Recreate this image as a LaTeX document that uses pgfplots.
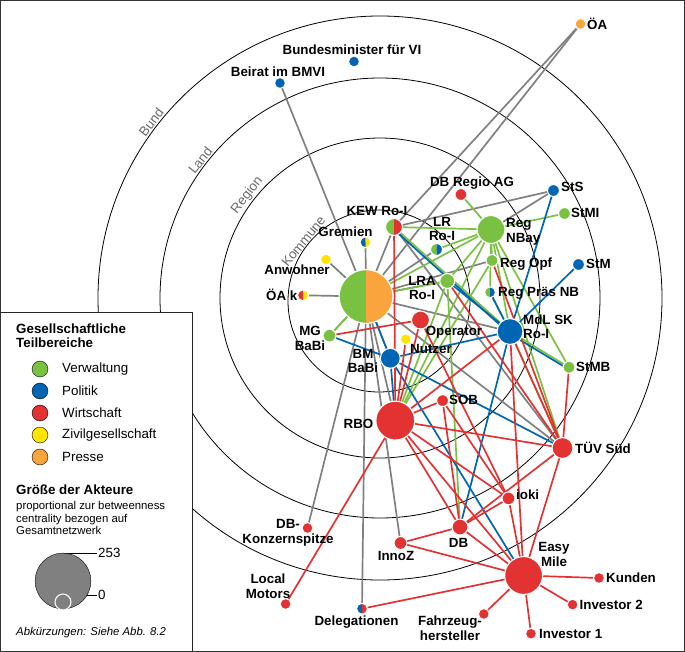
\documentclass[border=0pt]{standalone}
\usepackage{pgfplots}
\pgfplotsset{compat=1.18}
\usepackage{fontspec}
\setmainfont{Liberation Sans}
\definecolor{cG}{RGB}{122,193,66}
\definecolor{cB}{RGB}{0,102,179}
\definecolor{cR}{RGB}{227,50,50}
\definecolor{cY}{RGB}{255,228,0}
\definecolor{cO}{RGB}{250,164,61}
\definecolor{cGr}{RGB}{128,128,128}
\definecolor{ringtxt}{RGB}{105,105,105}
\pgfdeclareplotmark{halfL}{\pgfpathmoveto{\pgfqpoint{0pt}{\pgfplotmarksize}}\pgfpatharc{90}{270}{\pgfplotmarksize}\pgfpathclose\pgfusepathqfill}
\pgfdeclareplotmark{halfR}{\pgfpathmoveto{\pgfqpoint{0pt}{-\pgfplotmarksize}}\pgfpatharc{-90}{90}{\pgfplotmarksize}\pgfpathclose\pgfusepathqfill}
\pgfplotsset{
  GR/.style={color=cGr, line width=1.7pt, mark=none, forget plot},
  GN/.style={color=cG, line width=1.7pt, mark=none, forget plot},
  BL/.style={color=cB, line width=1.7pt, mark=none, forget plot},
  RD/.style={color=cR, line width=1.7pt, mark=none, forget plot},
}
\newcommand{\lb}{\fontsize{13.4}{14.5}\selectfont\bfseries}
\tikzset{lbl/.style={font=\lb, inner sep=0pt, align=center}}
% node coordinates (pixels, y downwards)
\def\nOA{(580.5,24)}
\def\nBMin{(354,61.5)}
\def\nBeirat{(280,83)}
\def\nDBRegio{(461,194.5)}
\def\nStS{(553.5,190.5)}
\def\nStMI{(564.5,213.5)}
\def\nKEW{(394,227)}
\def\nLR{(436.5,249.5)}
\def\nRegNBay{(491,229.5)}
\def\nGremien{(365.5,242.3)}
\def\nAnwohner{(326,259.5)}
\def\nRegOpf{(492,260.5)}
\def\nStM{(578.5,264.5)}
\def\nKurVW{(366,296.5)}
\def\nOAk{(303,295.3)}
\def\nLRA{(447.3,281)}
\def\nRegPraes{(490,292.3)}
\def\nOperator{(420.5,320)}
\def\nMdL{(510,331.5)}
\def\nMG{(329.5,335.6)}
\def\nNutzer{(405.8,339.2)}
\def\nBM{(390.3,358.3)}
\def\nStMB{(569,367.3)}
\def\nSOB{(442.6,400.6)}
\def\nRBO{(395.3,420.6)}
\def\nTUV{(562.5,448)}
\def\nioki{(508.5,498.4)}
\def\nDB{(460,527)}
\def\nDBK{(307.5,528)}
\def\nInnoZ{(400.5,543)}
\def\nEM{(523.6,575.5)}
\def\nKunden{(599,578)}
\def\nLocalM{(285.6,604)}
\def\nDeleg{(362,608.7)}
\def\nInvB{(572.6,604.6)}
\def\nFahrz{(483.8,614)}
\def\nInvA{(531,633.7)}
\newcommand{\ed}[3]{\edef\tmp{\noexpand\addplot[#1] coordinates {#2 #3};}\tmp}
\newcommand{\nd}[3]{\edef\tmp{\noexpand\addplot[only marks, mark=*, mark size=#2, forget plot, mark options={fill=#3, draw=white, line width=1.1pt}] coordinates {#1};}\tmp}
\newcommand{\nh}[4]{\edef\tmp{\noexpand\addplot[only marks, mark=halfL, mark size=#2, color=#3, forget plot] coordinates {#1};
\noexpand\addplot[only marks, mark=halfR, mark size=#2, color=#4, forget plot] coordinates {#1};
\noexpand\addplot[only marks, mark=o, mark size=#2, forget plot, mark options={draw=white, line width=1.1pt}] coordinates {#1};}\tmp}
\begin{document}
\begin{tikzpicture}
\begin{axis}[scale only axis, width=685bp, height=652bp, xmin=0, xmax=685, ymin=0, ymax=652,
  y dir=reverse, hide axis, clip=false]
% rings
\draw[black, line width=0.8pt] (axis cs:380,298) circle [radius=282];
\draw[black, line width=0.8pt] (axis cs:380,298) circle [radius=220];
\draw[black, line width=0.8pt] (axis cs:380,298) circle [radius=160];
\draw[black, line width=0.8pt] (axis cs:379,301) circle [radius=91];
\node[rotate=52, anchor=south, inner sep=1pt, text=ringtxt, font=\fontsize{13.4}{14}\selectfont] at (axis cs:156,126) {Bund};
\node[rotate=52, anchor=south, inner sep=1pt, text=ringtxt, font=\fontsize{13.4}{14}\selectfont] at (axis cs:205,164) {Land};
\node[rotate=52, anchor=south, inner sep=1pt, text=ringtxt, font=\fontsize{13.4}{14}\selectfont] at (axis cs:253,200) {Region};
\node[rotate=51, anchor=south, inner sep=1pt, text=ringtxt, font=\fontsize{13.4}{14}\selectfont] at (axis cs:308,245) {Kommune};
% gray edges
\ed{GR}{\nBeirat}{\nKurVW}
\ed{GR}{\nOA}{\nKurVW}
\ed{GR}{\nOA}{\nKEW}
\ed{GR}{\nKEW}{\nStS}
\ed{GR}{\nRegNBay}{\nStS}
\ed{GR}{\nKurVW}{\nRegOpf}
\ed{GR}{\nKEW}{\nTUV}
\ed{GR}{\nKurVW}{\nTUV}
\ed{GR}{\nKurVW}{\nDBK}
\ed{GR}{\nKurVW}{\nDeleg}
\ed{GR}{\nKurVW}{\nInnoZ}
\ed{GR}{\nKurVW}{\nRBO}
\ed{GR}{\nKurVW}{\nGremien}
\ed{GR}{\nKurVW}{\nAnwohner}
\ed{GR}{\nKurVW}{\nOAk}
\ed{GR}{\nKurVW}{\nMG}
\ed{GR}{\nKurVW}{\nKEW}
\ed{GR}{\nKurVW}{\nBM}
\ed{GR}{\nKurVW}{\nLR}
\ed{GR}{\nKurVW}{\nLRA}
\ed{GR}{\nKurVW}{\nMdL}
% green edges
\ed{GN}{\nKEW}{\nRegNBay}
\ed{GN}{\nKurVW}{\nRegNBay}
\ed{GN}{\nLR}{\nRegNBay}
\ed{GN}{\nDBRegio}{\nRegNBay}
\ed{GN}{\nRegNBay}{\nStMI}
\ed{GN}{\nRegNBay}{\nRegOpf}
\ed{GN}{\nRegNBay}{\nRegPraes}
\ed{GN}{\nRegNBay}{\nMdL}
\ed{GN}{\nRegNBay}{\nStMB}
\ed{GN}{\nRegNBay}{\nTUV}
\ed{GN}{\nRegNBay}{\nLRA}
\ed{GN}{\nRegNBay}{\nRBO}
\ed{GN}{\nRegOpf}{\nRBO}
\ed{GN}{\nKurVW}{\nLRA}
\ed{GN}{\nMG}{\nKurVW}
\ed{GN}{\nLRA}{\nRBO}
\ed{GN}{\nLRA}{\nDB}
\ed{GN}{\nKEW}{\nMdL}
\ed{GN}{\nRegPraes}{\nMdL}
\ed{GN}{\nMdL}{\nStMB}
\ed{GN}{\nMdL}{\nTUV}
% blue edges
\ed{BL}{\nStS}{\nMdL}
\ed{BL}{\nStM}{\nMdL}
\ed{BL}{(394,229.5)}{(510,334)}
\ed{BL}{\nLRA}{\nMdL}
\ed{BL}{\nRegPraes}{\nMdL}
\ed{BL}{(510,334)}{(569,369.5)}
\ed{BL}{\nBM}{\nMdL}
\ed{BL}{\nMdL}{\nDB}
\ed{BL}{\nBM}{\nTUV}
\ed{BL}{\nBM}{\nEM}
\ed{BL}{\nKurVW}{\nBM}
\ed{BL}{\nMG}{\nBM}
\ed{BL}{\nBM}{\nRBO}
% red edges
\ed{RD}{\nKEW}{\nRBO}
\ed{RD}{\nMG}{\nOperator}
\ed{RD}{\nOperator}{\nRBO}
\ed{RD}{\nOperator}{\nioki}
\ed{RD}{\nRegOpf}{\nTUV}
\ed{RD}{\nLRA}{\nTUV}
\ed{RD}{\nMdL}{\nRBO}
\ed{RD}{\nMdL}{\nTUV}
\ed{RD}{\nMdL}{\nEM}
\ed{RD}{\nStMB}{\nTUV}
\ed{RD}{\nNutzer}{\nRBO}
\ed{RD}{\nRBO}{\nSOB}
\ed{RD}{\nRBO}{\nTUV}
\ed{RD}{\nRBO}{\nDB}
\ed{RD}{\nRBO}{\nioki}
\ed{RD}{\nRBO}{\nEM}
\ed{RD}{\nRBO}{\nLocalM}
\ed{RD}{\nSOB}{\nDB}
\ed{RD}{\nSOB}{\nioki}
\ed{RD}{\nTUV}{\nDB}
\ed{RD}{\nTUV}{\nEM}
\ed{RD}{\nioki}{\nDB}
\ed{RD}{\nioki}{\nEM}
\ed{RD}{\nDB}{\nInnoZ}
\ed{RD}{\nDB}{\nEM}
\ed{RD}{\nInnoZ}{\nEM}
\ed{RD}{\nEM}{\nKunden}
\ed{RD}{\nEM}{\nInvB}
\ed{RD}{\nEM}{\nInvA}
\ed{RD}{\nEM}{\nFahrz}
\ed{RD}{\nEM}{\nDeleg}
% nodes
\nd{\nOA}{5.5}{cO}
\nd{\nBMin}{5.5}{cB}
\nd{\nBeirat}{5.5}{cB}
\nd{\nDBRegio}{6}{cR}
\nd{\nStS}{6}{cB}
\nd{\nStMI}{6}{cG}
\nh{\nKEW}{8.5}{cG}{cR}
\nh{\nLR}{6}{cG}{cB}
\nd{\nRegNBay}{14}{cG}
\nh{\nGremien}{5.5}{cB}{cY}
\nd{\nAnwohner}{5.5}{cY}
\nd{\nRegOpf}{6}{cG}
\nd{\nStM}{6}{cB}
\nh{\nKurVW}{27}{cG}{cO}
\nh{\nOAk}{5.5}{cR}{cY}
\nd{\nLRA}{7.5}{cG}
\nh{\nRegPraes}{5.5}{cG}{cB}
\nd{\nOperator}{9}{cR}
\nd{\nMdL}{13}{cB}
\nd{\nMG}{6.5}{cG}
\nd{\nNutzer}{5.5}{cY}
\nd{\nBM}{10}{cB}
\nd{\nStMB}{6}{cG}
\nd{\nSOB}{6}{cR}
\nd{\nRBO}{19.5}{cR}
\nd{\nTUV}{10.5}{cR}
\nd{\nioki}{6.5}{cR}
\nd{\nDB}{8}{cR}
\nd{\nDBK}{5.5}{cR}
\nd{\nInnoZ}{6.5}{cR}
\nd{\nEM}{19}{cR}
\nd{\nKunden}{5.5}{cR}
\nd{\nLocalM}{5.5}{cR}
\nh{\nDeleg}{5.5}{cB}{cR}
\nd{\nInvB}{5.5}{cR}
\nd{\nFahrz}{5.5}{cR}
\nd{\nInvA}{5.5}{cR}
% labels
\node[lbl, anchor=west] at (axis cs:587,24) {ÖA};
\node[lbl] at (axis cs:352,50) {Bundesminister für VI};
\node[lbl] at (axis cs:278,72) {Beirat im BMVI};
\node[lbl] at (axis cs:472,183) {DB Regio AG};
\node[lbl, anchor=west] at (axis cs:561,187) {StS};
\node[lbl, anchor=west] at (axis cs:571,213) {StMI};
\node[lbl] at (axis cs:377,211) {KEW Ro-I};
\node[lbl] at (axis cs:442,229) {LR\\Ro-I};
\node[lbl, anchor=west, align=left] at (axis cs:506,232) {Reg\\NBay};
\node[lbl] at (axis cs:345.5,231.5) {Gremien};
\node[lbl] at (axis cs:297,270) {Anwohner};
\node[lbl, anchor=west] at (axis cs:500,264) {Reg Opf};
\node[lbl, anchor=west] at (axis cs:586,264) {StM};
\node[lbl] at (axis cs:366.5,298) {KurVW\\BaBi};
\node[lbl, anchor=east] at (axis cs:297.5,295) {ÖA k};
\node[lbl] at (axis cs:422,288) {LRA\\Ro-I};
\node[lbl, anchor=west] at (axis cs:498,293) {Reg Präs NB};
\node[lbl] at (axis cs:454,332) {Operator};
\node[lbl, anchor=west, align=left] at (axis cs:523,327) {MdL SK\\Ro-I};
\node[lbl] at (axis cs:310,338.3) {MG\\BaBi};
\node[lbl] at (axis cs:431,349) {Nutzer};
\node[lbl] at (axis cs:363,361) {BM\\BaBi};
\node[lbl, anchor=west] at (axis cs:576,367) {StMB};
\node[lbl, anchor=west] at (axis cs:449,400) {SOB};
\node[lbl] at (axis cs:358.5,423.5) {RBO};
\node[lbl, anchor=west] at (axis cs:575,448) {TÜV Süd};
\node[lbl, anchor=west] at (axis cs:516,495) {ioki};
\node[lbl] at (axis cs:458.5,543) {DB};
\node[lbl] at (axis cs:288,533) {DB-\\Konzernspitze};
\node[lbl] at (axis cs:396,556) {InnoZ};
\node[lbl] at (axis cs:554,554.5) {Easy\\Mile};
\node[lbl, anchor=west] at (axis cs:606,578) {Kunden};
\node[lbl] at (axis cs:268,586) {Local\\Motors};
\node[lbl] at (axis cs:356.5,622) {Delegationen};
\node[lbl, anchor=west] at (axis cs:579.5,605) {Investor 2};
\node[lbl] at (axis cs:450,628) {Fahrzeug-\\hersteller};
\node[lbl, anchor=west] at (axis cs:539,634) {Investor 1};
% legend panel
\draw[fill=white, draw=black!85, line width=1pt] (axis cs:0.5,312) rectangle (axis cs:192,651.5);
\node[lbl, anchor=west, align=left] at (axis cs:16,336) {Gesellschaftliche\\Teilbereiche};
\addplot[only marks, mark=*, mark size=8, forget plot, mark options={fill=cG, draw=none}] coordinates {(40,369)};
\addplot[only marks, mark=*, mark size=8, forget plot, mark options={fill=cB, draw=none}] coordinates {(40,391)};
\addplot[only marks, mark=*, mark size=8, forget plot, mark options={fill=cR, draw=none}] coordinates {(40,413)};
\addplot[only marks, mark=*, mark size=8, forget plot, mark options={fill=cY, draw=none}] coordinates {(40,435)};
\addplot[only marks, mark=*, mark size=8, forget plot, mark options={fill=cO, draw=none}] coordinates {(40,457)};
\node[anchor=west, inner sep=0pt, font=\fontsize{13.4}{14}\selectfont] at (axis cs:62,369) {Verwaltung};
\node[anchor=west, inner sep=0pt, font=\fontsize{13.4}{14}\selectfont] at (axis cs:62,391) {Politik};
\node[anchor=west, inner sep=0pt, font=\fontsize{13.4}{14}\selectfont] at (axis cs:62,413) {Wirtschaft};
\node[anchor=west, inner sep=0pt, font=\fontsize{13.4}{14}\selectfont] at (axis cs:62,435) {Zivilgesellschaft};
\node[anchor=west, inner sep=0pt, font=\fontsize{13.4}{14}\selectfont] at (axis cs:62,457) {Presse};
\node[lbl, anchor=west] at (axis cs:16,490) {Größe der Akteure};
\node[anchor=west, inner sep=0pt, align=left, font=\fontsize{11.4}{12.2}\selectfont] at (axis cs:16,518) {proportional zur betweenness\\centrality bezogen auf\\Gesamtnetzwerk};
\addplot[only marks, mark=*, mark size=28, forget plot, mark options={fill=cGr, draw=none}] coordinates {(63,581)};
\addplot[only marks, mark=*, mark size=8, forget plot, mark options={fill=cGr, draw=white, line width=1.1pt}] coordinates {(63,602)};
\draw[black, line width=0.8pt] (axis cs:63,553) -- (axis cs:97,553);
\draw[black, line width=0.8pt] (axis cs:63,595) -- (axis cs:97,595);
\node[anchor=west, inner sep=1pt, font=\fontsize{13.4}{14}\selectfont] at (axis cs:97,553) {253};
\node[anchor=west, inner sep=1pt, font=\fontsize{13.4}{14}\selectfont] at (axis cs:97,595) {0};
\node[anchor=west, inner sep=0pt, font=\fontsize{11.4}{12}\selectfont\itshape] at (axis cs:16,633) {Abkürzungen: Siehe Abb. 8.2};
% outer frame
\draw[draw=black!80, line width=1pt] (axis cs:0.5,0.5) rectangle (axis cs:684.5,651.5);
\end{axis}
\end{tikzpicture}
\end{document}
